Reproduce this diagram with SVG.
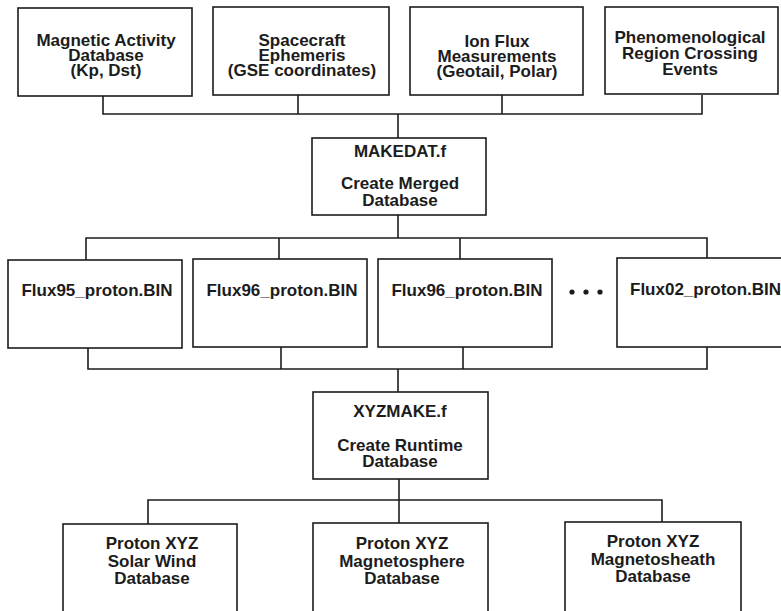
<svg xmlns="http://www.w3.org/2000/svg" width="781" height="611" viewBox="0 0 781 611">
<style>
.box{fill:#fff;stroke:#1c1c1c;stroke-width:1.6}
.ln{fill:none;stroke:#1c1c1c;stroke-width:1.6}
text{font-family:"Liberation Sans",Arial,sans-serif;font-weight:bold;font-size:17px;fill:#1c1c1c;text-anchor:middle}
</style>
<rect width="781" height="611" fill="#fff"/>
<g id="connectors">
<polyline class="ln" points="103,96 103,114 702,114 702,95"/>
<line class="ln" x1="298" y1="95" x2="298" y2="114"/>
<line class="ln" x1="502" y1="95" x2="502" y2="114"/>
<line class="ln" x1="398" y1="114" x2="398" y2="138"/>
<line class="ln" x1="398" y1="215" x2="398" y2="238"/>
<polyline class="ln" points="86,260 86,238 707,238 707,258"/>
<line class="ln" x1="279" y1="238" x2="279" y2="259"/>
<line class="ln" x1="460" y1="238" x2="460" y2="259"/>
<polyline class="ln" points="88,348 88,369 707,369 707,347"/>
<line class="ln" x1="281" y1="347" x2="281" y2="369"/>
<line class="ln" x1="463" y1="347" x2="463" y2="369"/>
<line class="ln" x1="398" y1="369" x2="398" y2="392"/>
<line class="ln" x1="399" y1="479" x2="399" y2="500"/>
<polyline class="ln" points="148,524 148,500 662,500 662,522"/>
<line class="ln" x1="399" y1="500" x2="399" y2="523"/>
</g>
<g id="n-magnetic">
<rect class="box" x="18" y="8" width="174" height="88"/>
<text x="106" y="46">Magnetic Activity</text>
<text x="106" y="61">Database</text>
<text x="106" y="76">(Kp, Dst)</text>
</g>
<g id="n-ephemeris">
<rect class="box" x="213" y="7" width="176" height="88"/>
<text x="302" y="46">Spacecraft</text>
<text x="302" y="61">Ephemeris</text>
<text x="302" y="76">(GSE coordinates)</text>
</g>
<g id="n-ionflux">
<rect class="box" x="410" y="7" width="173" height="88"/>
<text x="497" y="47">Ion Flux</text>
<text x="497" y="62">Measurements</text>
<text x="497" y="77">(Geotail, Polar)</text>
</g>
<g id="n-pheno">
<rect class="box" x="605" y="7" width="173" height="87"/>
<text x="690" y="43">Phenomenological</text>
<text x="690" y="59">Region Crossing</text>
<text x="690" y="75">Events</text>
</g>
<g id="n-makedat">
<rect class="box" x="312" y="138" width="174" height="77"/>
<text x="400" y="157">MAKEDAT.f</text>
<text x="400" y="189">Create Merged</text>
<text x="400" y="206">Database</text>
</g>
<g id="n-flux95">
<rect class="box" x="8" y="260" width="174" height="88"/>
<text x="97" y="296">Flux95_proton.BIN</text>
</g>
<g id="n-flux96a">
<rect class="box" x="193" y="259" width="174" height="88"/>
<text x="282" y="296">Flux96_proton.BIN</text>
</g>
<g id="n-flux96b">
<rect class="box" x="378" y="259" width="174" height="88"/>
<text x="467" y="296">Flux96_proton.BIN</text>
</g>
<g id="n-dots">
<circle cx="572" cy="292" r="2.6" fill="#1c1c1c"/>
<circle cx="586" cy="292" r="2.6" fill="#1c1c1c"/>
<circle cx="600" cy="292" r="2.6" fill="#1c1c1c"/>
</g>
<g id="n-flux02">
<rect class="box" x="617" y="258" width="180" height="89"/>
<text x="630" y="295" style="text-anchor:start">Flux02_proton.BIN</text>
</g>
<g id="n-xyzmake">
<rect class="box" x="313" y="392" width="175" height="87"/>
<text x="400" y="417">XYZMAKE.f</text>
<text x="400" y="451">Create Runtime</text>
<text x="400" y="467">Database</text>
</g>
<g id="n-solarwind">
<rect class="box" x="63" y="524" width="174" height="100"/>
<text x="152" y="549">Proton XYZ</text>
<text x="152" y="567">Solar Wind</text>
<text x="152" y="584">Database</text>
</g>
<g id="n-magnetosphere">
<rect class="box" x="313" y="523" width="175" height="100"/>
<text x="402" y="549">Proton XYZ</text>
<text x="402" y="567">Magnetosphere</text>
<text x="402" y="584">Database</text>
</g>
<g id="n-magnetosheath">
<rect class="box" x="565" y="522" width="176" height="100"/>
<text x="653" y="547">Proton XYZ</text>
<text x="653" y="565">Magnetosheath</text>
<text x="653" y="582">Database</text>
</g>
</svg>
